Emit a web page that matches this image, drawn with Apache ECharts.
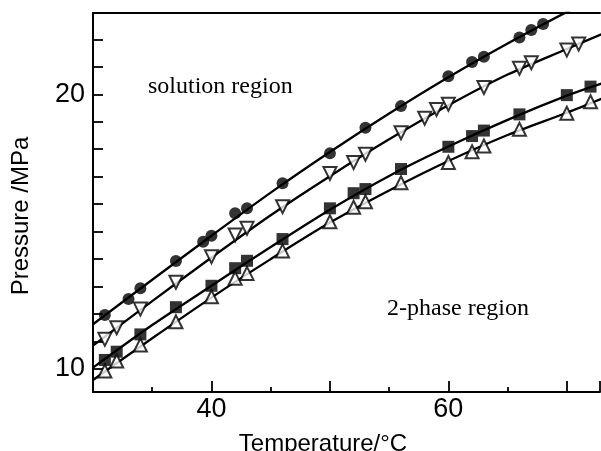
<!DOCTYPE html>
<html>
<head>
<meta charset="utf-8">
<script src="https://cdn.jsdelivr.net/npm/echarts@6/dist/echarts.min.js"></script>
<style>
  html, body { margin: 0; padding: 0; background: #fff; }
  #chart { width: 601px; height: 451px; }
</style>
</head>
<body>
<div id="chart"></div>
<script>
// measured points (temperature °C, pressure MPa)
var circleT = [31, 33, 34, 37, 39.3, 40, 42, 43, 46, 50, 53, 56, 60, 62, 63, 66, 67, 68];
var circleP = [11.97, 12.55, 12.94, 13.93, 14.63, 14.85, 15.67, 15.85, 16.76, 17.85, 18.78, 19.57, 20.66, 21.18, 21.37, 22.07, 22.34, 22.56];

var downT = [31, 32, 34, 37, 40, 42, 43, 46, 50, 52, 53, 56, 58, 59, 60, 63, 66, 67, 70, 71];
var downP = [11.08, 11.50, 12.18, 13.16, 14.09, 14.88, 15.12, 15.91, 17.12, 17.52, 17.82, 18.60, 19.13, 19.45, 19.64, 20.25, 20.95, 21.15, 21.61, 21.83];

var squareT = [31, 32, 34, 37, 40, 42, 43, 46, 50, 52, 53, 56, 60, 62, 63, 66, 70, 72];
var squareP = [10.33, 10.63, 11.26, 12.25, 13.03, 13.67, 13.94, 14.73, 15.85, 16.40, 16.55, 17.28, 18.09, 18.48, 18.68, 19.27, 19.97, 20.28];

var upT = [31, 32, 34, 37, 40, 42, 43, 46, 50, 52, 53, 56, 60, 62, 63, 66, 70, 72];
var upP = [9.93, 10.29, 10.87, 11.72, 12.63, 13.30, 13.48, 14.30, 15.36, 15.89, 16.09, 16.78, 17.52, 17.91, 18.12, 18.73, 19.31, 19.73];

// fitted curves
var fitT = [30, 35, 40, 45, 50, 55, 60, 65, 70, 73];
var circleFit = [11.63, 13.25, 14.85, 16.42, 17.9, 19.3, 20.62, 21.85, 23.0, 23.65];
var downFit = [10.85, 12.47, 14.06, 15.6, 17.02, 18.36, 19.6, 20.72, 21.65, 22.2];
var squareFit = [10.05, 11.6, 13.03, 14.44, 15.8, 17.03, 18.1, 19.07, 19.95, 20.4];
var upFit = [9.6, 11.12, 12.6, 14.0, 15.33, 16.5, 17.57, 18.52, 19.33, 19.85];

// axis ticks
var yTicks = [10, 11, 12, 13, 14, 15, 16, 17, 18, 19, 20, 21, 22];
var yLabels = [10, 20];
var xLabels = [40, 60];

function pairs(xs, ys) {
    return xs.map(function (x, i) { return [x, ys[i]]; });
}

function fitLine(ys) {
    return {
        type: 'line',
        data: pairs(fitT, ys),
        smooth: 0.3,
        showSymbol: false,
        symbol: 'none',
        lineStyle: { color: '#000', width: 2.3 },
        z: 2
    };
}

function markers(xs, ys, symbol, filled, rotate, size) {
    return {
        type: 'scatter',
        data: pairs(xs, ys),
        symbol: symbol,
        symbolSize: size,
        symbolRotate: rotate || 0,
        itemStyle: {
            color: filled ? '#000' : '#fff',
            borderColor: '#000',
            borderWidth: filled ? 0 : 2
        },
        z: 3
    };
}

var chart = echarts.init(document.getElementById('chart'), null, { renderer: 'canvas' });

var option = {
    backgroundColor: '#fff',
    animation: false,
    grid: { left: 93, right: 1, top: 13, bottom: 59, containLabel: false },
    xAxis: [{
        type: 'value',
        min: 30,
        max: 72.8,
        interval: 10,
        axisLine: { show: true, onZero: false, lineStyle: { color: '#000', width: 2 } },
        axisTick: { show: true, inside: true, length: 11, lineStyle: { color: '#000', width: 1.8 } },
        minorTick: { show: true, splitNumber: 2, length: 5, lineStyle: { color: '#000', width: 1.8 } },
        axisLabel: {
            customValues: xLabels,
            color: '#000',
            fontSize: 27,
            fontFamily: 'Liberation Sans',
            margin: 4
        },
        splitLine: { show: false }
    }, {
        type: 'value',
        position: 'top',
        min: 30,
        max: 72.8,
        axisLine: { show: true, onZero: false, lineStyle: { color: '#000', width: 2 } },
        axisTick: { show: false },
        axisLabel: { show: false },
        splitLine: { show: false }
    }],
    yAxis: {
        type: 'value',
        min: 9.163,
        max: 22.96,
        axisLine: { show: true, onZero: false, lineStyle: { color: '#000', width: 2 } },
        axisTick: { show: true, inside: true, length: 10, customValues: yTicks, lineStyle: { color: '#000', width: 1.8 } },
        axisLabel: {
            customValues: yLabels,
            color: '#000',
            fontSize: 27,
            fontFamily: 'Liberation Sans',
            margin: 8
        },
        splitLine: { show: false }
    },
    graphic: [{
        type: 'text',
        x: 21, y: 216,
        rotation: Math.PI / 2,
        style: {
            text: 'Pressure /MPa',
            font: '24px "Liberation Sans"',
            fill: '#000',
            align: 'center',
            verticalAlign: 'middle'
        }
    }, {
        type: 'text',
        x: 323, y: 444,
        style: {
            text: 'Temperature/°C',
            font: '24px "Liberation Sans"',
            fill: '#000',
            align: 'center',
            verticalAlign: 'middle'
        }
    }, {
        type: 'text',
        x: 148, y: 87,
        style: {
            text: 'solution region',
            font: '24px "Liberation Serif"',
            fill: '#000',
            align: 'left',
            verticalAlign: 'middle'
        }
    }, {
        type: 'text',
        x: 387, y: 309,
        style: {
            text: '2-phase region',
            font: '24px "Liberation Serif"',
            fill: '#000',
            align: 'left',
            verticalAlign: 'middle'
        }
    }],
    series: [
        fitLine(circleFit),
        fitLine(downFit),
        fitLine(squareFit),
        fitLine(upFit),
        markers(circleT, circleP, 'circle', true, 0, 12),
        markers(downT, downP, 'triangle', false, 180, 13),
        markers(squareT, squareP, 'rect', true, 0, 12),
        markers(upT, upP, 'triangle', false, 0, 13)
    ]
};

chart.setOption(option);
</script>
</body>
</html>
